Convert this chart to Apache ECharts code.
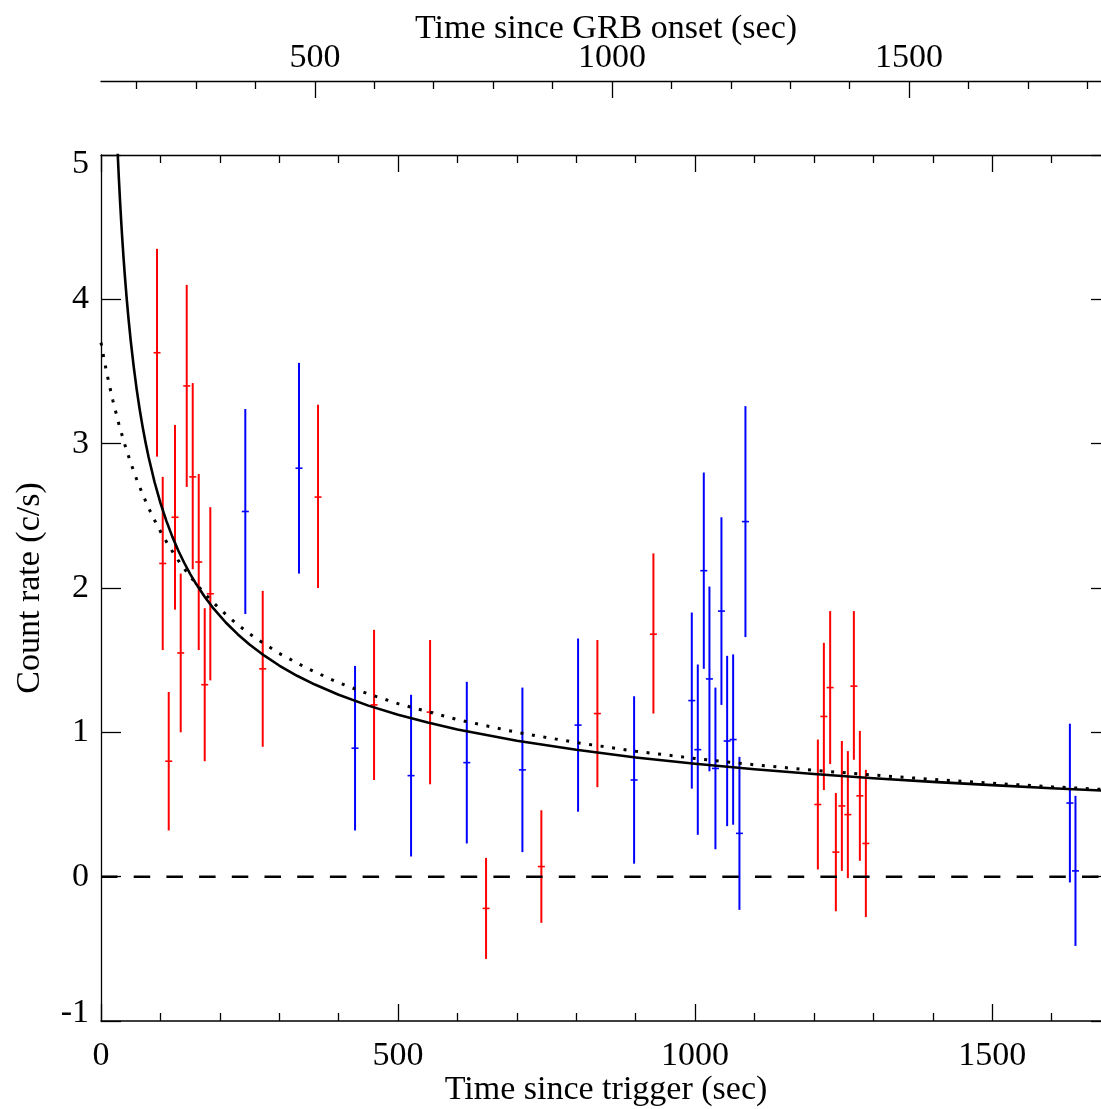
<!DOCTYPE html>
<html>
<head>
<meta charset="utf-8">
<script src="https://cdn.jsdelivr.net/npm/echarts@6/dist/echarts.min.js"></script>
<style>
html,body{margin:0;padding:0;background:#fff;}
#chart{width:1101px;height:1109px;}
</style>
</head>
<body>
<div id="chart"></div>
<script>
// ---- Data ----
// Red points: time since trigger, rate, lower bound, upper bound
const redT    = [94.3,103.9,114.0,124.6,134.2,144.3,154.4,164.5,174.6,184.0,272.2,365.3,459.6,553.9,648.1,741.2,835.5,929.8,1206.6,1216.7,1227.3,1236.9,1247.0,1257.1,1267.2,1277.3,1287.4];
const redY    = [3.63,2.17,0.80,2.49,1.55,3.40,2.77,2.18,1.33,1.96,1.44,2.63,1.19,1.14,-0.22,0.07,1.13,1.68,0.50,1.11,1.31,0.17,0.49,0.43,1.32,0.56,0.23];
const redLow  = [2.91,1.57,0.32,1.85,1.00,2.70,2.13,1.57,0.80,1.36,0.90,2.00,0.67,0.64,-0.57,-0.32,0.62,1.13,0.05,0.60,0.78,-0.24,0.04,-0.01,0.81,0.11,-0.28];
const redHigh = [4.35,2.77,1.28,3.13,2.10,4.10,3.42,2.79,1.86,2.56,1.98,3.27,1.71,1.64,0.13,0.46,1.64,2.24,0.95,1.62,1.84,0.58,0.94,0.87,1.84,1.01,0.74];

// Blue points
const blueT    = [242.9,333.3,427.6,521.9,615.7,709.3,803.0,897.3,994.4,1004.5,1014.6,1024.1,1034.2,1044.3,1053.9,1064.0,1074.6,1084.7,1630.8,1640.2];
const blueY    = [2.53,2.83,0.89,0.70,0.79,0.74,1.05,0.67,1.22,0.88,2.12,1.37,0.75,1.84,0.94,0.95,0.30,2.46,0.51,0.04];
const blueLow  = [1.82,2.10,0.32,0.14,0.23,0.17,0.45,0.09,0.61,0.29,1.44,0.73,0.19,1.19,0.35,0.36,-0.23,1.66,-0.04,-0.48];
const blueHigh = [3.24,3.56,1.46,1.26,1.35,1.31,1.65,1.25,1.83,1.47,2.80,2.01,1.31,2.49,1.53,1.54,0.83,3.26,1.06,0.56];

// Solid model curve
const solidT = [26,28,30,32,34,36,38,40,43,46,50,55,60,65,70,75,80,90,100,110,120,130,140,150,160,175,190,210,230,250,275,300,330,360,400,450,500,550,600,700,800,900,1000,1100,1200,1300,1400,1500,1600,1700];
const solidY = [5.219,5.021,4.844,4.684,4.539,4.406,4.284,4.171,4.017,3.879,3.714,3.535,3.378,3.240,3.118,3.008,2.909,2.736,2.590,2.465,2.356,2.260,2.175,2.098,2.029,1.936,1.855,1.761,1.680,1.609,1.531,1.463,1.392,1.331,1.260,1.185,1.122,1.068,1.020,0.942,0.879,0.826,0.782,0.744,0.711,0.682,0.657,0.634,0.613,0.594];

// Dotted model curve
const dottedT = [0,5,10,15,20,30,40,50,60,70,80,90,100,115,130,150,175,200,230,260,300,350,400,450,500,600,700,800,900,1000,1100,1200,1300,1400,1500,1600,1700];
const dottedY = [3.700,3.588,3.485,3.389,3.299,3.137,2.994,2.867,2.753,2.650,2.556,2.471,2.392,2.286,2.191,2.079,1.958,1.854,1.746,1.653,1.547,1.437,1.344,1.266,1.199,1.088,1.000,0.929,0.869,0.819,0.775,0.737,0.704,0.674,0.647,0.623,0.601];

// Zero reference line
const zeroT = [0, 1700];
const zeroY = [0, 0];

// Axis ticks / labels
const xMajor = [0, 500, 1000, 1500];
const xMinor = [100,200,300,400,600,700,800,900,1100,1200,1300,1400,1600];
const topMajor = [500, 1000, 1500];
const topMinor = [200,300,400,600,700,800,900,1100,1200,1300,1400,1600,1700,1800];

const FONT = 'Liberation Serif';
const txt = {fontSize:34, fontFamily:FONT, color:'#000'};
const AX = {color:'#000', width:1.3};
const plain = function(v){ return String(v); };

function errItem(color){
  return function(params, api){
    const x = api.value(0), y = api.value(1), lo = api.value(2), hi = api.value(3);
    const pLo = api.coord([x, lo]), pHi = api.coord([x, hi]), pC = api.coord([x, y]);
    return {type:'group', children:[
      {type:'line', shape:{x1:pLo[0], y1:pLo[1], x2:pHi[0], y2:pHi[1]}, style:{stroke:color, lineWidth:2}},
      {type:'line', shape:{x1:pC[0]-3.5, y1:pC[1], x2:pC[0]+3.5, y2:pC[1]}, style:{stroke:color, lineWidth:1.6}}
    ]};
  };
}

const redData = redT.map((t,i)=>[t, redY[i], redLow[i], redHigh[i]]);
const blueData = blueT.map((t,i)=>[t, blueY[i], blueLow[i], blueHigh[i]]);
const solidData = solidT.map((t,i)=>[t, solidY[i]]);
const dottedData = dottedT.map((t,i)=>[t, dottedY[i]]);
const zeroData = zeroT.map((t,i)=>[t, zeroY[i]]);

function xAx(o){
  return Object.assign({type:'value', min:0, max:1700, splitLine:{show:false},
    axisLine:{show:false, onZero:false, lineStyle:AX},
    axisLabel:{show:false}}, o);
}

const option = {
  animation:false,
  backgroundColor:'#fff',
  grid:[
    {left:101, top:155, width:1010, height:866, containLabel:false, outerBoundsMode:'none'},
    {left:101, top:81, width:1010, height:10, containLabel:false, outerBoundsMode:'none'}
  ],
  xAxis:[
    xAx({gridIndex:0, position:'bottom',
      axisLine:{show:true, onZero:false, lineStyle:{color:'#000', width:1.6}},
      axisTick:{show:true, inside:true, length:17, customValues:xMajor, lineStyle:AX},
      axisLabel:Object.assign({show:true, customValues:xMajor, margin:18, formatter:plain}, txt),
      name:'Time since trigger (sec)', nameLocation:'middle', nameGap:52, nameMoveOverlap:false, nameTextStyle:txt}),
    xAx({gridIndex:0, position:'bottom',
      axisTick:{show:true, inside:true, length:8, customValues:xMinor, lineStyle:AX}}),
    xAx({gridIndex:0, position:'top',
      axisLine:{show:true, onZero:false, lineStyle:AX},
      axisTick:{show:true, inside:true, length:17, customValues:xMajor, lineStyle:AX}}),
    xAx({gridIndex:0, position:'top',
      axisTick:{show:true, inside:true, length:8, customValues:xMinor, lineStyle:AX}}),
    xAx({gridIndex:1, position:'top', min:140, max:1840,
      axisLine:{show:true, onZero:false, lineStyle:AX},
      axisTick:{show:true, inside:true, length:17, customValues:topMajor, lineStyle:AX},
      axisLabel:Object.assign({show:true, customValues:topMajor, margin:6, formatter:plain}, txt),
      name:'Time since GRB onset (sec)', nameLocation:'middle', nameGap:35, nameMoveOverlap:false, nameTextStyle:txt}),
    xAx({gridIndex:1, position:'top', min:140, max:1840,
      axisTick:{show:true, inside:true, length:8, customValues:topMinor, lineStyle:AX}})
  ],
  yAxis:[
    {gridIndex:0, type:'value', position:'left', min:-1, max:5, interval:1,
      splitLine:{show:false},
      axisLine:{show:true, onZero:false, lineStyle:AX},
      axisTick:{show:true, inside:true, length:20, lineStyle:AX},
      axisLabel:{show:true, margin:12, fontSize:34, fontFamily:FONT, color:'#000',
        formatter:function(v){
          if (v === 5) return '{t|5}';
          if (v === -1) return '{b|-1}';
          return '{n|' + v + '}';
        },
        rich:{
          t:{fontSize:34, fontFamily:FONT, color:'#000', padding:[18,0,0,0]},
          b:{fontSize:34, fontFamily:FONT, color:'#000', padding:[0,0,16,0]},
          n:{fontSize:34, fontFamily:FONT, color:'#000'}
        }},
      name:'Count rate (c/s)', nameLocation:'middle', nameGap:54, nameRotate:90, nameMoveOverlap:false, nameTextStyle:txt},
    {gridIndex:0, type:'value', position:'right', min:-1, max:5, interval:1,
      splitLine:{show:false},
      axisLine:{show:true, onZero:false, lineStyle:AX},
      axisTick:{show:true, inside:true, length:20, lineStyle:AX},
      axisLabel:{show:false}},
    {gridIndex:1, type:'value', min:0, max:1, show:false, splitLine:{show:false}}
  ],
  series:[
    {type:'custom', name:'red', xAxisIndex:0, yAxisIndex:0, renderItem:errItem('#ff0000'),
      data:redData, encode:{x:0, y:1}, clip:true, z:2},
    {type:'custom', name:'blue', xAxisIndex:0, yAxisIndex:0, renderItem:errItem('#0000ff'),
      data:blueData, encode:{x:0, y:1}, clip:true, z:2},
    {type:'line', name:'zero', xAxisIndex:0, yAxisIndex:0, data:zeroData, symbol:'none', showSymbol:false,
      lineStyle:{color:'#000', width:2.5, type:[16.5,16.2]}, z:3, silent:true},
    {type:'line', name:'dotted', xAxisIndex:0, yAxisIndex:0, data:dottedData, symbol:'none', showSymbol:false,
      smooth:false,
      lineStyle:{color:'#000', width:3, type:[3,8.6]}, z:4, silent:true},
    {type:'line', name:'solid', xAxisIndex:0, yAxisIndex:0, data:solidData, symbol:'none', showSymbol:false,
      smooth:false, clip:true,
      lineStyle:{color:'#000', width:2.6, join:'round'}, z:5, silent:true}
  ]
};

const chart = echarts.init(document.getElementById('chart'), null, {renderer:'canvas'});
chart.setOption(option);
</script>
</body>
</html>
